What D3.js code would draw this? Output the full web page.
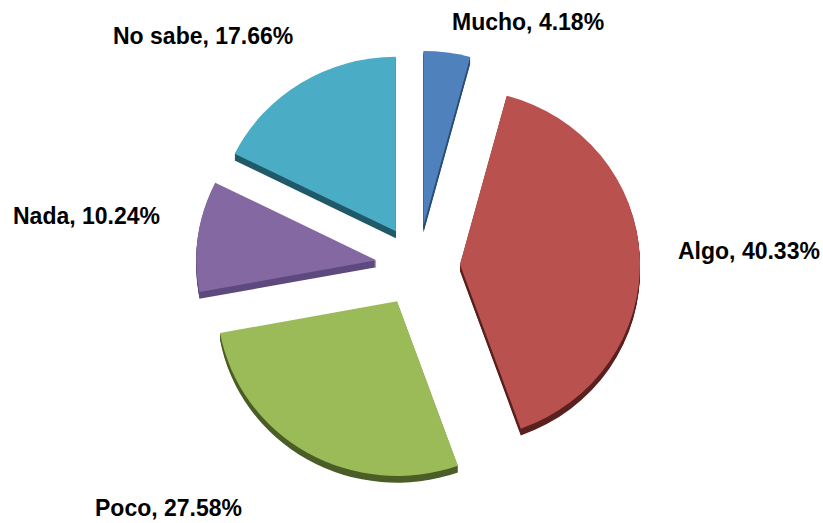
<!DOCTYPE html>
<meta charset="utf-8">
<script src="https://d3js.org/d3.v7.min.js"></script>
<style>
  body { margin: 0; background: #fff; }
</style>
<div id="my_dataviz"></div>
<script>
// data
var categories = ["Mucho", "Algo", "Poco", "Nada", "No sabe"];
var values = [4.18, 40.33, 27.58, 10.24, 17.66];
var topColors = ["#4F81BD", "#B9514E", "#9BBB59", "#8468A2", "#4BACC6"];
var sideColors = ["#2C4D75", "#5A2220", "#4C5E28", "#5E4A7E", "#215A69"];

// layout
var width = 823, height = 523;
var cx = 418, cy = 266, radius = 180, explode = 42;
var tilt = 0.97;   // slight vertical squash of the 3d view
var depth = 7;
// label anchors (start x, baseline y)
var labelPos = {
  "Mucho":   [452, 30],
  "Algo":    [678, 259],
  "Poco":    [95, 516],
  "Nada":    [13, 224],
  "No sabe": [113, 44]
};

var data = categories.map((c, i) => ({cat: c, value: values[i], i: i}));

var svg = d3.select("#my_dataviz")
  .append("svg")
    .attr("width", width)
    .attr("height", height);

var pie = d3.pie()
  .sort(null)
  .value(d => d.value);

var arc = d3.arc()
  .innerRadius(0)
  .outerRadius(radius);

var arcs = pie(data);

var g = svg.append("g")
  .attr("transform", "translate(" + cx + "," + cy + ") scale(1," + tilt + ")");

var slice = g.selectAll(".slice")
  .data(arcs)
  .enter().append("g")
  .attr("class", "slice")
  .attr("transform", d => {
    var a = (d.startAngle + d.endAngle) / 2;
    return "translate(" + (explode * Math.sin(a)) + "," + (-explode * Math.cos(a)) + ")";
  });

// 3d side: stacked offset copies below the face
var steps = d3.range(depth, 0, -1);
slice.each(function(d) {
  var s = d3.select(this);
  steps.forEach(k => {
    s.append("path")
      .attr("d", arc(d))
      .attr("transform", "translate(0," + k + ")")
      .attr("fill", sideColors[d.data.i]);
  });
});

// top face
slice.append("path")
  .attr("d", arc)
  .attr("fill", d => topColors[d.data.i]);

// labels
svg.selectAll(".label")
  .data(arcs)
  .enter().append("text")
  .attr("class", "label")
  .attr("x", d => labelPos[d.data.cat][0])
  .attr("y", d => labelPos[d.data.cat][1])
  .style("font-family", "'Liberation Sans', Arial, sans-serif")
  .style("font-weight", "bold")
  .style("font-size", "23px")
  .attr("fill", "#000")
  .text(d => d.data.cat + ", " + d.data.value.toFixed(2) + "%");
</script>
